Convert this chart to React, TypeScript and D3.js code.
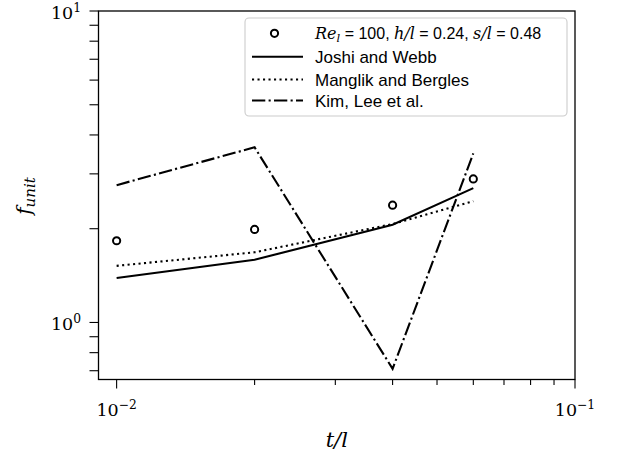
import React from 'react';
import * as d3 from 'd3';

// Thickness ratio t/l and friction factor per unit
const tOverL = [0.01, 0.02, 0.04, 0.06];
const simulated = [1.83, 1.99, 2.38, 2.89];
const joshiWebb = [1.39, 1.59, 2.06, 2.7];
const manglikBergles = [1.52, 1.68, 2.07, 2.45];
const kimLee = [2.76, 3.65, 0.71, 3.49];

const xMajorTicks = [0.01, 0.1];
const xMajorExp = ['−2', '−1'];
const yMajorTicks = [1, 10];
const yMajorExp = ['0', '1'];
const xMinorTicks = [0.02, 0.03, 0.04, 0.05, 0.06, 0.07, 0.08, 0.09];
const yMinorTicks = [0.7, 0.8, 0.9, 2, 3, 4, 5, 6, 7, 8, 9];

const legendLabels = ['Joshi and Webb', 'Manglik and Bergles', 'Kim, Lee et al.'];

const W = 618;
const H = 454;
const left = 98.5;
const right = 575;
const top = 11;
const bottom = 379.5;

const x = d3.scaleLog().domain([0.00913, 0.1]).range([left, right]);
const y = d3.scaleLog().domain([0.656, 10]).range([bottom, top]);

const SERIF = '"DejaVu Serif", serif';
const SANS = '"Liberation Sans", Arial, sans-serif';

const lineGen = d3
  .line<number>()
  .x((_, i) => x(tOverL[i]))
  .y((d) => y(d));

const dotted = '2.1,3.4';
const dashDot = '13.3,3.3,2.1,3.3';

export default function App() {
  const series = [
    { values: joshiWebb, dash: undefined as string | undefined },
    { values: manglikBergles, dash: dotted },
    { values: kimLee, dash: dashDot },
  ];
  const rowY = [33.3, 56.7, 79.5, 100.5];
  const handleX0 = 252;
  const handleX1 = 303;
  const textX = 315;

  return (
    <svg
      width={W}
      height={H}
      style={{ position: 'absolute', left: 0, top: 0, background: '#fff' }}
    >
      <rect x={0} y={0} width={W} height={H} fill="#fff" />
      <defs>
        <clipPath id="plot">
          <rect x={left} y={top} width={right - left} height={bottom - top} />
        </clipPath>
      </defs>

      {/* data */}
      <g clipPath="url(#plot)">
        {series.map((s, i) => (
          <path
            key={i}
            d={lineGen(s.values) || ''}
            fill="none"
            stroke="#000"
            strokeWidth={2.1}
            strokeDasharray={s.dash}
          />
        ))}
        {simulated.map((v, i) => (
          <circle
            key={i}
            cx={x(tOverL[i])}
            cy={y(v)}
            r={3.6}
            fill="none"
            stroke="#000"
            strokeWidth={2}
          />
        ))}
      </g>

      {/* ticks */}
      <g stroke="#000" strokeWidth={1.1}>
        {xMajorTicks.map((t) => (
          <line key={'xM' + t} x1={x(t)} x2={x(t)} y1={bottom} y2={bottom + 9} />
        ))}
        {xMinorTicks.map((t) => (
          <line key={'xm' + t} x1={x(t)} x2={x(t)} y1={bottom} y2={bottom + 5.5} />
        ))}
        {yMajorTicks.map((t) => (
          <line key={'yM' + t} x1={left - 9} x2={left} y1={y(t)} y2={y(t)} />
        ))}
        {yMinorTicks.map((t) => (
          <line key={'ym' + t} x1={left - 9} x2={left} y1={y(t)} y2={y(t)} />
        ))}
      </g>

      {/* spines */}
      <rect
        x={left}
        y={top}
        width={right - left}
        height={bottom - top}
        fill="none"
        stroke="#000"
        strokeWidth={1.3}
      />

      {/* tick labels */}
      <g fontFamily={SERIF} fontSize={17.5} fill="#000">
        {xMajorTicks.map((t, i) => (
          <text key={'xl' + t} x={x(t)} y={416} textAnchor="middle">
            10
            <tspan dy={-7.5} fontSize={12.3}>
              {xMajorExp[i]}
            </tspan>
          </text>
        ))}
        {yMajorTicks.map((t, i) => (
          <text key={'yl' + t} x={81} y={y(t) + 8} textAnchor="end">
            10
            <tspan dy={-7.5} fontSize={12.3}>
              {yMajorExp[i]}
            </tspan>
          </text>
        ))}
      </g>

      {/* axis labels */}
      <text
        x={(left + right) / 2}
        y={447}
        textAnchor="middle"
        fontFamily={SERIF}
        fontStyle="italic"
        fontSize={21}
      >
        t/l
      </text>
      <text
        transform={`translate(31, 196) rotate(-90)`}
        textAnchor="middle"
        fontFamily={SERIF}
        fontStyle="italic"
        fontSize={20}
      >
        f
        <tspan fontSize={15} dy={3.5}>
          unit
        </tspan>
      </text>

      {/* legend */}
      <rect
        x={245}
        y={18}
        width={322}
        height={98}
        rx={4}
        fill="#fff"
        fillOpacity={0.8}
        stroke="#cccccc"
        strokeWidth={1.1}
      />
      <circle cx={(handleX0 + handleX1) / 2 - 3} cy={rowY[0]} r={3.6} fill="none" stroke="#000" strokeWidth={2} />
      <text x={textX} y={rowY[0] + 5.5} fontSize={16} fontFamily={SANS}>
        <tspan fontFamily={SERIF} fontStyle="italic">Re</tspan>
        <tspan fontFamily={SERIF} fontStyle="italic" fontSize={11.5} dy={3}>l</tspan>
        <tspan dy={-3}> = 100, </tspan>
        <tspan fontFamily={SERIF} fontStyle="italic">h/l</tspan>
        <tspan> = 0.24, </tspan>
        <tspan fontFamily={SERIF} fontStyle="italic">s/l</tspan>
        <tspan> = 0.48</tspan>
      </text>
      {series.map((s, i) => (
        <g key={'lg' + i}>
          <line
            x1={handleX0}
            x2={handleX1}
            y1={rowY[i + 1]}
            y2={rowY[i + 1]}
            stroke="#000"
            strokeWidth={2.1}
            strokeDasharray={s.dash}
          />
          <text x={textX} y={rowY[i + 1] + 6} fontSize={17} fontFamily={SANS}>
            {legendLabels[i]}
          </text>
        </g>
      ))}
    </svg>
  );
}
